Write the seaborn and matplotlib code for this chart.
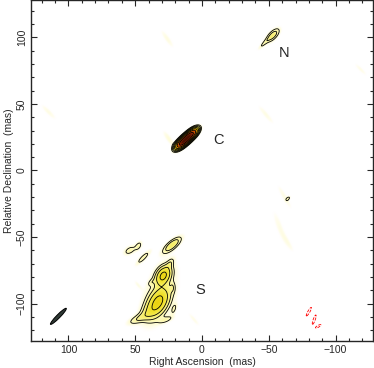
import numpy as np
import seaborn as sns
import matplotlib
matplotlib.use("Agg")
import matplotlib.pyplot as plt
from matplotlib.colors import LinearSegmentedColormap, LogNorm
from matplotlib.patches import Ellipse

# Gaussian source model (mas; peak in units of the lowest contour)
comp_ra = [15.2, 11.5, 7.8,                   # C
           -53.0, -46.5,                      # N
           -64.5,                             # small blob
           22.4, 44.0, 54.0, 47.5,            # S: outlying blobs
           29.0, 33.0, 47.0, 32.0,            # S: main lobes, tail, envelope
           22.0, 21.0, 38.0, 27.0, 24.0, 40.0,  # S: ragged edges
           -80.0, -84.0, -87.0]               # negative
comp_dec = [20.65, 24.0, 27.35,
            101.5, 95.5,
            -21.0,
            -56.0, -65.5, -60.0, -56.5,
            -79.0, -99.0, -111.0, -93.0,
            -88.0, -104.0, -84.0, -112.0, -70.0, -106.0,
            -106.0, -112.0, -117.0]
comp_peak = [70, 90, 60,
             3.0, 1.2,
             1.25,
             3.5, 1.5, 1.5, 1.4,
             9.0, 9.0, 1.8, 1.3,
             1.2, 1.2, 1.0, 1.3, 1.5, 1.5,
             -1.8, -1.8, -1.6]
comp_major = [3.2, 3.2, 3.2,
              4.2, 4.0,
              1.5,
              5.4, 5.0, 3.5, 2.5,
              4.5, 7.0, 6.0, 16.0,
              2.5, 3.0, 2.0, 4.0, 3.0, 5.0,
              3.5, 3.5, 2.5]
comp_minor = [1.5, 1.5, 1.5,
              1.9, 1.0,
              0.8,
              2.0, 1.4, 2.0, 1.5,
              3.0, 4.0, 2.0, 7.0,
              1.2, 1.2, 1.2, 1.5, 1.5, 3.0,
              0.7, 0.7, 0.7]
comp_pa = [-48, -48, -48,
           -44, -44,
           -45,
           -50, -45, -60, -30,
           -30, -30, -65, -20,
           0, -20, -45, -70, -30, -45,
           -30, -20, -60]

# faint sidelobe streaks (below the lowest contour)
faint_ra = [26, 115, -48, -119, -62, -58, -65, 25, 6, 48]
faint_dec = [99, 44, 42, 76, -20, -42, -55, 24, -112, -86]
faint_peak = [0.6, 0.55, 0.55, 0.5, 0.55, 0.5, 0.45, 0.7, 0.5, 0.5]
faint_major = [6, 6, 7, 5, 8, 10, 6, 5, 5, 3]
faint_minor = [1.5, 1.5, 1.5, 1.2, 1.5, 2, 1.5, 1.5, 1.2, 1]
faint_pa = [35, 45, 40, 45, 30, 20, 30, 35, 40, 40]

contour_levels = [1, 2, 4, 8, 16, 32, 64]
neg_levels = [-1]

labels = ["N", "C", "S"]
label_ra = [-61.5, -12.6, 1.5]
label_dec = [88.5, 22.7, -89.5]

beam = dict(ra=107.5, dec=-109.5, major=16.8, minor=2.6, pa=-44.5)

ticks = [100, 50, 0, -50, -100]


def gauss_map(RA, DEC, ra0, dec0, peak, smaj, smin, pa):
    out = np.zeros_like(RA)
    for r, d, p, a, b, t in zip(ra0, dec0, peak, smaj, smin, pa):
        th = np.deg2rad(t)
        dx = RA - r
        dy = DEC - d
        u = dx * np.sin(th) + dy * np.cos(th)
        v = dx * np.cos(th) - dy * np.sin(th)
        out += p * np.exp(-0.5 * (u ** 2 / a ** 2 + v ** 2 / b ** 2))
    return out


ra = np.linspace(128, -128, 641)
dec = np.linspace(-128, 128, 641)
RA, DEC = np.meshgrid(ra, dec)
field = gauss_map(RA, DEC, comp_ra, comp_dec, comp_peak, comp_major, comp_minor, comp_pa)
field += gauss_map(RA, DEC, faint_ra, faint_dec, faint_peak, faint_major, faint_minor, faint_pa)

sns.set_style("ticks", {"xtick.direction": "in", "ytick.direction": "in"})
plt.rcParams["font.family"] = ["Liberation Sans", "DejaVu Sans"]
plt.rcParams["axes.unicode_minus"] = True

vmin, vmax = 0.25, 110
stops = [0.25, 0.5, 1, 2, 4, 8, 16, 32, 64, 110]
cols = ["#ffffff", "#fffde8", "#fefbc8", "#fbf59a", "#f6ec5a", "#eedd1e",
        "#e8c000", "#e07000", "#b03000", "#4a1000"]
pos = [np.log(s / vmin) / np.log(vmax / vmin) for s in stops]
cmap = LinearSegmentedColormap.from_list("radio", list(zip(pos, cols)))
cmap.set_under("white")
cmap.set_bad("white")

fig = plt.figure(figsize=(3.74, 3.68), dpi=100)
ax = fig.add_axes([0.0829, 0.0734, 0.9144, 0.9266])

ax.imshow(np.where(field > 0, field, np.nan), extent=(128, -128, -128, 128), origin="lower",
          cmap=cmap, norm=LogNorm(vmin=vmin, vmax=vmax), interpolation="bilinear", aspect="auto")
ax.contour(RA, DEC, field, levels=contour_levels, colors="black", linewidths=0.6)
ax.contour(RA, DEC, field, levels=neg_levels, colors="red", linewidths=0.6, linestyles="dashed")

ax.add_patch(Ellipse((beam["ra"], beam["dec"]), beam["major"], beam["minor"],
                     angle=90 - beam["pa"], facecolor="#2f3a35", edgecolor="black", lw=0.7))

for t, x, y in zip(labels, label_ra, label_dec):
    ax.text(x, y, t, fontsize=10.5, ha="center", va="center")

ax.set_xlim(128, -128)
ax.set_ylim(-128, 128)
ax.set_xticks(ticks)
ax.set_yticks(ticks)
ax.set_xticks(np.arange(-120, 121, 10), minor=True)
ax.set_yticks(np.arange(-120, 121, 10), minor=True)
ax.tick_params(which="both", direction="in", top=True, right=True, labelsize=7.5, width=0.8)
ax.tick_params(which="major", length=4, pad=3)
ax.tick_params(which="minor", length=2)
plt.setp(ax.get_yticklabels(), rotation=90, va="center")
for s in ax.spines.values():
    s.set_linewidth(1.0)

ax.set_xlabel("Right Ascension  (mas)", fontsize=7.5, labelpad=1)
ax.set_ylabel("Relative Declination  (mas)", fontsize=7.5, labelpad=2)

fig.savefig("out.png", dpi=100)
